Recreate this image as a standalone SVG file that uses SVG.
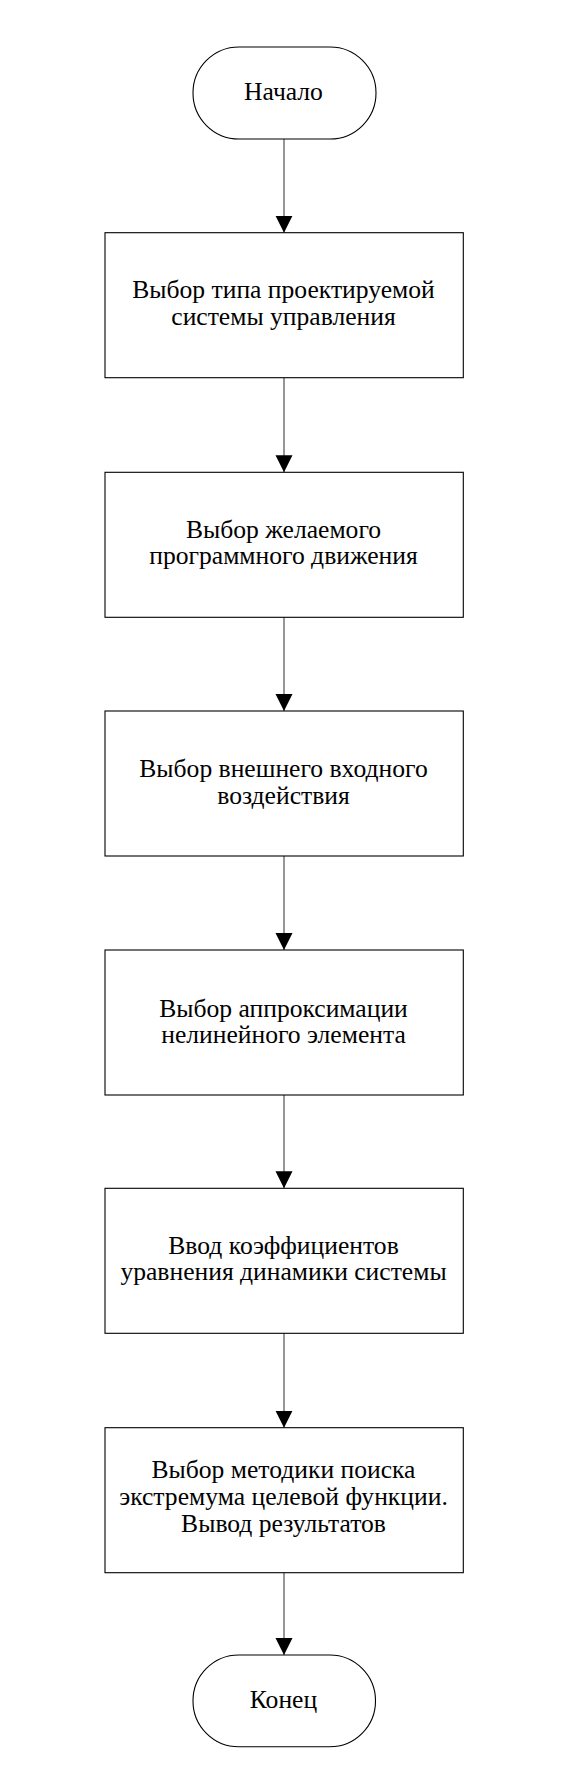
<svg xmlns="http://www.w3.org/2000/svg" width="576" height="1786" viewBox="0 0 576 1786">
<style>
.shape{fill:#fff;stroke:#000;stroke-width:1.1}
.c{stroke:#404040;stroke-width:1.1;fill:none;marker-end:url(#ah)}
</style>
<defs>
<marker id="ah" markerUnits="userSpaceOnUse" markerWidth="18" markerHeight="18" viewBox="0 0 18 18" refX="17" refY="9" orient="auto">
<path d="M0,0.5 L17,9 L0,17.5 Z" fill="#000"/>
</marker>
</defs>
<rect width="576" height="1786" fill="#fff"/>
<g id="connectors">
<line class="c" x1="284" y1="139" x2="284" y2="232.7"/>
<line class="c" x1="284" y1="377.7" x2="284" y2="472.3"/>
<line class="c" x1="284" y1="617.3" x2="284" y2="711"/>
<line class="c" x1="284" y1="856" x2="284" y2="950"/>
<line class="c" x1="284" y1="1095" x2="284" y2="1188.3"/>
<line class="c" x1="284" y1="1333.3" x2="284" y2="1427.7"/>
<line class="c" x1="284" y1="1572.5" x2="284" y2="1655"/>
</g>
<g font-family="'Liberation Serif', 'Times New Roman', serif" font-size="25.6" fill="#000" text-anchor="middle">
<g id="start">
<rect class="shape" x="193" y="47" width="183" height="92" rx="46" ry="46"/>
<text x="283.5" y="99.8">Начало</text>
</g>
<g id="n1">
<rect class="shape" x="105" y="232.7" width="358.3" height="145"/>
<text x="283.5" y="298.3">Выбор типа проектируемой</text>
<text x="283.5" y="325.2">системы управления</text>
</g>
<g id="n2">
<rect class="shape" x="105" y="472.3" width="358.3" height="145"/>
<text x="283.5" y="537.7">Выбор желаемого</text>
<text x="283.5" y="564.4">программного движения</text>
</g>
<g id="n3">
<rect class="shape" x="105" y="711" width="358.3" height="145"/>
<text x="283.5" y="776.7">Выбор внешнего входного</text>
<text x="283.5" y="803.5">воздействия</text>
</g>
<g id="n4">
<rect class="shape" x="105" y="950" width="358.3" height="145"/>
<text x="283.5" y="1016.5">Выбор аппроксимации</text>
<text x="283.5" y="1043.3">нелинейного элемента</text>
</g>
<g id="n5">
<rect class="shape" x="105" y="1188.3" width="358.3" height="145"/>
<text x="283.5" y="1253.5">Ввод коэффициентов</text>
<text x="283.5" y="1280.3">уравнения динамики системы</text>
</g>
<g id="n6">
<rect class="shape" x="105" y="1427.7" width="358.3" height="145"/>
<text x="283.5" y="1477.8">Выбор методики поиска</text>
<text x="283.5" y="1505.3">экстремума целевой функции.</text>
<text x="283.5" y="1532">Вывод результатов</text>
</g>
<g id="end">
<rect class="shape" x="193" y="1655" width="182.5" height="91.7" rx="45.8" ry="45.8"/>
<text x="283.5" y="1708.3">Конец</text>
</g>
</g>
</svg>
